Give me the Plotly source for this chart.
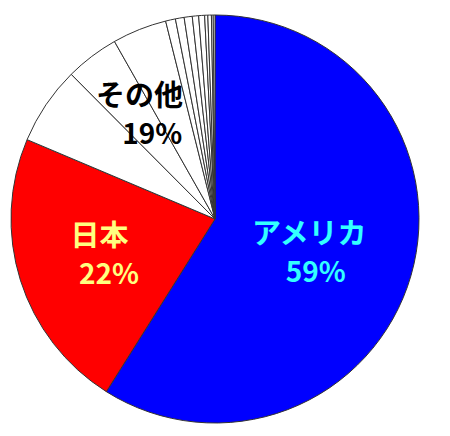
import plotly.graph_objects as go

# slice values (percent), clockwise from 12 o'clock
slice_names = ["アメリカ", "日本", "その他1", "その他2", "その他3", "その他4", "その他5",
               "その他6", "その他7", "その他8", "その他9", "その他10", "その他11", "その他12"]
slice_values = [58.94, 22.42, 6.19, 4.25, 4.31, 0.78, 0.69, 0.64, 0.50, 0.47, 0.25, 0.28, 0.14, 0.14]
slice_colors = ["#0000FF", "#FF0000"] + ["#FFFFFF"] * 12

# text labels shown on the chart
label_names = ["アメリカ", "日本", "その他"]
label_pcts = ["59%", "22%", "19%"]
label_colors = ["#33FFFF", "#FFFF80", "#000000"]

# the page body has an 8px margin, so the domain is shifted to compensate
fig = go.Figure(go.Pie(
    labels=slice_names,
    values=slice_values,
    sort=False,
    direction="clockwise",
    rotation=0,
    marker=dict(colors=slice_colors, line=dict(color="#333333", width=1)),
    textinfo="none",
    hoverinfo="label+percent",
    showlegend=False,
    domain=dict(x=[3 / 450, 411 / 450], y=[1 - 415 / 436, 1 - 7 / 436]),
))

# label placement (paper coords) and small indent of the percent line
label_pos = [(0.6689, 0.4461), (0.2044, 0.4415), (0.2933, 0.7615)]
pct_indent = [2, 3, 4]

for i in range(len(label_names)):
    txt = ("<b>" + label_names[i] + "</b><br>"
           + "<span style='font-size:28px'><b>" + "&nbsp;" * pct_indent[i]
           + label_pcts[i] + "</b></span>")
    fig.add_annotation(x=label_pos[i][0], y=label_pos[i][1], xref="paper", yref="paper",
                       xanchor="center", yanchor="middle", align="center",
                       text=txt, showarrow=False,
                       font=dict(family="Noto Sans CJK JP", size=29, color=label_colors[i]))

fig.update_layout(
    width=450, height=436,
    margin=dict(l=0, r=0, t=0, b=0),
    paper_bgcolor="white",
    plot_bgcolor="white",
)

fig.write_html("out.html")
